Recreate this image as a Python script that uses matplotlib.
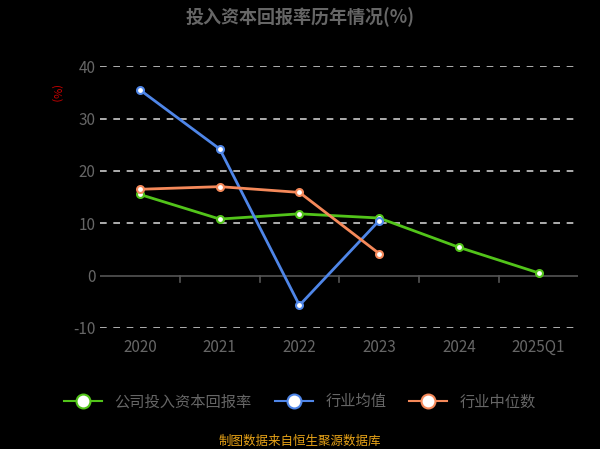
import matplotlib
matplotlib.use("Agg")
import matplotlib.pyplot as plt
from matplotlib.lines import Line2D

plt.rcParams['font.family'] = ['Noto Sans CJK SC', 'DejaVu Sans']
plt.rcParams['axes.unicode_minus'] = False

categories = ["2020", "2021", "2022", "2023", "2024", "2025Q1"]
company = [15.5, 10.8, 11.8, 11.0, 5.4, 0.5]
industry_mean = [35.5, 24.2, -5.7, 10.5]
industry_median = [16.5, 17.0, 15.9, 4.2]
yticks = [-10, 0, 10, 20, 30, 40]

green, blue, orange = "#52c41a", "#4f86e8", "#f5895a"

fig = plt.figure(figsize=(6, 4.49), dpi=100, facecolor="black")
ax = fig.add_axes([0.167, 0.27, 0.797, 0.582], facecolor="black")
x = list(range(len(categories)))

def plot(vals, c):
    ax.plot(x[:len(vals)], vals, color=c, lw=2, marker='o', ms=5,
            markerfacecolor='white', markeredgecolor=c, markeredgewidth=1.5, zorder=3)

plot(company, green)
plot(industry_mean, blue)
plot(industry_median, orange)

ax.set_xlim(-0.5, 5.5)
ax.set_ylim(-10, 40)
ax.set_yticks(yticks)
ax.set_xticks(x)
ax.set_xticklabels(categories)
for y in yticks:
    if y != 0:
        ax.axhline(y, color="#cccccc", lw=1.2, ls=(0, (4, 4)), zorder=1)
ax.axhline(0, color="#555555", lw=1.2, zorder=1)
for s in ax.spines.values():
    s.set_visible(False)
ax.tick_params(axis='y', length=0, colors="#666666", labelsize=11)
ax.tick_params(axis='x', length=0, colors="#666666", labelsize=11, pad=8)
for xi in [i + 0.5 for i in x[:-1]]:
    ax.plot([xi, xi], [0, -1.3], color="#555555", lw=1.2, zorder=1)

fig.text(0.5, 0.962, "投入资本回报率历年情况(%)", ha='center', va='center',
         color="#666666", fontsize=13, fontweight='bold')
fig.text(0.092, 0.79, "(%)", rotation=-90, color="#cc0000", fontsize=8, ha='center', va='center')

handles = [Line2D([0], [0], color=c, lw=1.5, marker='o', ms=10, markerfacecolor='white',
                  markeredgecolor=c, markeredgewidth=1.5) for c in (green, blue, orange)]
leg = fig.legend(handles, ["公司投入资本回报率", "行业均值", "行业中位数"], loc='center',
                 bbox_to_anchor=(0.5, 0.105), ncol=3, frameon=False, fontsize=11,
                 handlelength=2.5, columnspacing=1.5, labelcolor="#666666")
fig.text(0.5, 0.018, "制图数据来自恒生聚源数据库", ha='center', va='center',
         color="#e8a317", fontsize=9)

fig.savefig("out.png", dpi=100, facecolor="black")
